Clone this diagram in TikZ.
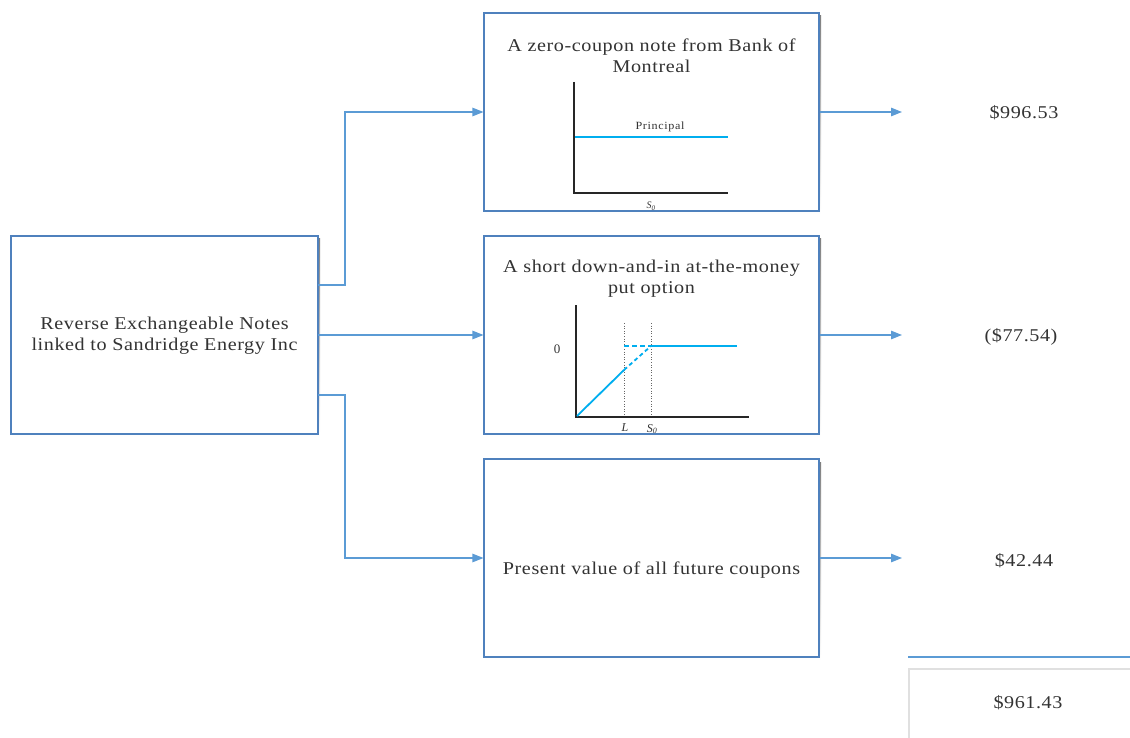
\documentclass[tikz,border=0pt]{standalone}
\usepackage{fontspec}
\setmainfont{Liberation Serif}
\newfontfamily\garfont[FakeStretch=1.12, LetterSpace=3.2]{Liberation Serif}
\newfontfamily\smallfont[FakeStretch=1.1, LetterSpace=6]{Liberation Serif}
\usetikzlibrary{arrows.meta}
\definecolor{boxblue}{HTML}{4F81BD}
\definecolor{linkblue}{HTML}{5B9BD5}
\definecolor{cyanline}{HTML}{00AEEF}
\definecolor{txt}{HTML}{333333}
\definecolor{shade}{HTML}{D5E0EE}
\begin{document}
\begin{tikzpicture}[x=1pt,y=-1pt,
  bigbox/.style={rectangle, draw=boxblue, line width=1.1pt, fill=white, inner sep=0pt,
     minimum width=335pt, minimum height=198pt},
  conn/.style={draw=linkblue, line width=1.2pt, -{Triangle[length=11pt,width=8.5pt]}},
  txtst/.style={text=txt, font=\garfont\fontsize{18}{21}\selectfont, align=center, inner sep=0pt},
  valst/.style={text=txt, font=\garfont\fontsize{18}{21}\selectfont, inner sep=0pt},
  axis/.style={draw=black!85, line width=1.2pt},
  pay/.style={draw=cyanline, line width=1.8pt},
  small/.style={text=txt, inner sep=0pt}]
\useasboundingbox (0,0) rectangle (1130,738);
% shadows
\foreach \cx/\cy/\w in {164.5/335/307, 651.5/112/335, 651.5/335/335, 651.5/558/335}{
  \fill[shade] (\cx-\w/2+2,\cy-99+3) rectangle (\cx+\w/2+2,\cy+99+3);
}
% boxes
\node[bigbox, minimum width=307pt] (src) at (164.5,335) {};
\node[txtst] (srct) at (164.5,336) {Reverse Exchangeable Notes\\linked to Sandridge Energy Inc};
\node[bigbox] (zc) at (651.5,112) {};
\node[bigbox] (put) at (651.5,335) {};
\node[bigbox] (cpn) at (651.5,558) {};
\node[txtst] (zct) at (651.5,55.5) {A zero-coupon note from Bank of\\Montreal};
\node[txtst] (putt) at (651.5,278.5) {A short down-and-in at-the-money\\put option};
\node[txtst] (cpnt) at (651.5,570) {Present value of all future coupons};
% plot 1
\draw[axis] (574,82) -- (574,193) -- (728,193);
\draw[pay] (575,137) -- (728,137);
\node[small, font=\smallfont\fontsize{11}{12}\selectfont] (prin) at (660,127) {Principal};
\node[small, font=\fontsize{10}{10}\selectfont\itshape] (s0a) at (651,206) {S\textsubscript{0}};
% plot 2
\draw[black!60, dotted, line width=0.6pt] (624,323) -- (624,417);
\draw[black!60, dotted, line width=0.6pt] (651,323) -- (651,417);
\draw[axis] (576,305) -- (576,417) -- (749,417);
\draw[pay] (577,416) -- (624,370);
\draw[pay, dash pattern=on 4pt off 3pt] (624,370) -- (651,346);
\draw[pay, dash pattern=on 5pt off 3pt] (624,346) -- (651,346);
\draw[pay] (651,346) -- (737,346);
\node[small, font=\fontsize{13}{13}\selectfont] (zero) at (557,349) {0};
\node[small, font=\fontsize{12}{12}\selectfont\itshape] (lL) at (625,428) {L};
\node[small, font=\fontsize{12}{12}\selectfont\itshape] (s0b) at (652,429) {S\textsubscript{0}};
% connectors from source
\coordinate (o1) at (318,285);
\coordinate (o2) at (318,335);
\coordinate (o3) at (318,395);
\draw[conn] (o1) -- (345,285) |- (zc.west);
\draw[conn] (o2) -- (put.west);
\draw[conn] (o3) -- (345,395) |- (cpn.west);
% outputs
\coordinate (e1) at (902,112);
\coordinate (e2) at (902,335);
\coordinate (e3) at (902,558);
\draw[conn] (zc.east) -- (e1);
\draw[conn] (put.east) -- (e2);
\draw[conn] (cpn.east) -- (e3);
\node[valst] (v1) at (1024,113) {\$996.53};
\node[valst] (v2) at (1021,337) {(\$77.54)};
\node[valst] (v3) at (1024,561) {\$42.44};
% total
\coordinate (t1) at (908,657);
\coordinate (t2) at (1130,657);
\draw[linkblue, line width=1.8pt] (t1) -- (t2);
\draw[black!12, line width=1.2pt] (909,745) -- (909,669) -- (1135,669);
\node[valst] (tot) at (1028,703) {\$961.43};
\end{tikzpicture}
\end{document}
